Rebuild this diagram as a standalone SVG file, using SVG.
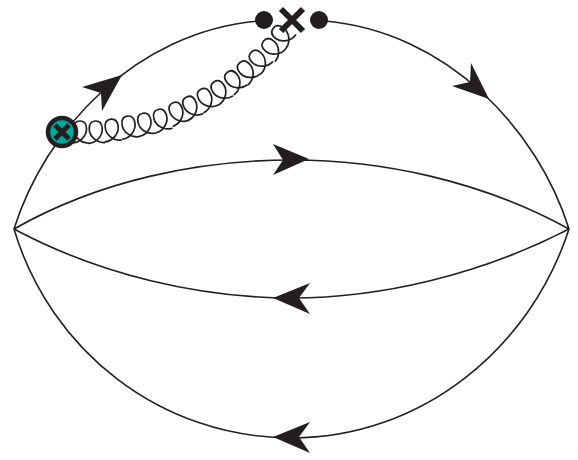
<svg xmlns="http://www.w3.org/2000/svg" xmlns:xlink="http://www.w3.org/1999/xlink" width="578" height="460" viewBox="0 0 578 460">
<style>
.l{fill:none;stroke:#231f20;stroke-width:1.6}
.g{fill:none;stroke:#231f20;stroke-width:1.7;stroke-linecap:round}
.h,.d{fill:#231f20}
.x{fill:none;stroke:#231f20;stroke-width:6}
</style>
<defs>
<path id="loop" d="M0,0C8,0 14.5,-7 14.5,-14C14.5,-19 12,-22 8,-22C4,-22 1.5,-19 1.5,-14C1.5,-7 8,0 16,0"/>
</defs>
<rect width="578" height="460" fill="#fff"/>
<g id="connectors">
<path class="l" d="M14,229C45,130 135,32 258,21"/>
<path class="l" d="M325,21C448,32 538,130 569,229"/>
<path class="l" d="M14,229C100,180 200,160 292,160C380,160 480,180 569,229"/>
<path class="l" d="M14,229C100,275 200,298 292,298C380,298 480,275 569,229"/>
<path class="l" d="M14,229C50,350 160,438 292,438C420,438 530,350 569,229"/>
<path class="h" d="M122,75L82,87L101,93L102,111Z"/>
<path class="h" d="M489,99L471,63L470,82L452,86Z"/>
<path class="h" d="M309,159L273,144L283,160L273,175Z"/>
<path class="h" d="M273,298L310,283L299,298L310,314Z"/>
<path class="h" d="M273,437L310,422L299,437L310,453Z"/>
</g>
<g id="gluon" class="g">
<use href="#loop" transform="translate(72,143)"/>
<use href="#loop" transform="translate(88.5,143.4) rotate(-3)"/>
<use href="#loop" transform="translate(105.2,141.8) rotate(-6)"/>
<use href="#loop" transform="translate(122.8,139.1) rotate(-9)"/>
<use href="#loop" transform="translate(139.5,136.4) rotate(-12)"/>
<use href="#loop" transform="translate(156.4,132.8) rotate(-16)"/>
<use href="#loop" transform="translate(173.5,126.1) rotate(-21)"/>
<use href="#loop" transform="translate(188.2,120.3) rotate(-24)"/>
<use href="#loop" transform="translate(204.1,112.5) rotate(-28)"/>
<use href="#loop" transform="translate(219,104.6) rotate(-32)"/>
<use href="#loop" transform="translate(234.2,94.6) rotate(-37)"/>
<use href="#loop" transform="translate(248.4,84.5) rotate(-42)"/>
<use href="#loop" transform="translate(261.4,73.4) rotate(-46)"/>
<use href="#loop" transform="translate(275.3,61.2) rotate(-50)"/>
<use href="#loop" transform="translate(286.2,47.9) rotate(-54)"/>
</g>
<g id="vertex-left">
<circle cx="62" cy="132" r="14" fill="#00a79d" stroke="#231f20" stroke-width="4.5"/>
<path d="M55,125L69,139M69,125L55,139" fill="none" stroke="#231f20" stroke-width="5"/>
</g>
<g id="dot-left"><circle class="d" cx="264" cy="20" r="9"/></g>
<g id="cross"><path class="x" d="M281,9L303,31M303,9L281,31"/></g>
<g id="dot-right"><circle class="d" cx="319" cy="20" r="9"/></g>
</svg>
